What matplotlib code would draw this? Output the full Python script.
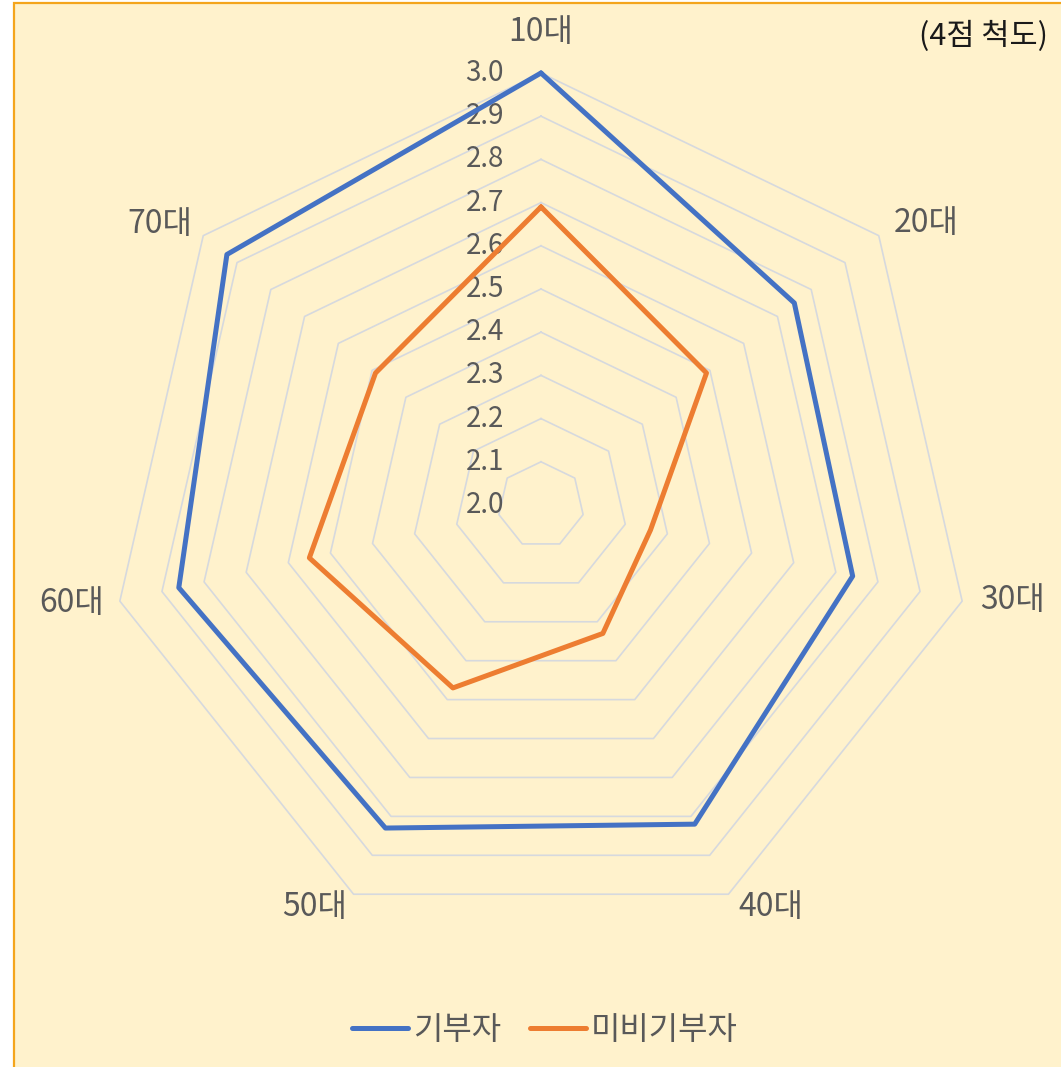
import numpy as np
import matplotlib
matplotlib.use("Agg")
import matplotlib.pyplot as plt
from matplotlib.patches import Rectangle

plt.rcParams['font.family'] = ['Noto Sans CJK KR', 'DejaVu Sans']

categories = ['10대', '20대', '30대', '40대', '50대', '60대', '70대']
donors = [3.00, 2.75, 2.74, 2.82, 2.83, 2.86, 2.93]
non_donors = [2.69, 2.49, 2.26, 2.33, 2.47, 2.55, 2.49]
series_names = ['기부자', '미비기부자']
tick_values = [2.0, 2.1, 2.2, 2.3, 2.4, 2.5, 2.6, 2.7, 2.8, 2.9, 3.0]
scale_note = '(4점 척도)'

# layout: pixel offsets of category labels from the outer ring vertices
label_offsets = [(0, 41), (47, 13), (50, 1), (42, -13), (-39, -13), (-48, -2), (-43, 12)]

W, H = 1061, 1067
fig = plt.figure(figsize=(W / 100, H / 100), dpi=100, facecolor='white')

# chart area background with orange border (extends past right/bottom edges)
fig.patches.append(Rectangle((13.5 / W, -0.05), 1.1, 1 - 3.5 / H + 0.05, transform=fig.transFigure,
                             facecolor='#FFF2CC', edgecolor='#F4A51C', lw=1.6, zorder=-10))

cx, cy, R = 541, 505, 432
ax = fig.add_axes([(cx - R) / W, (H - cy - R) / H, 2 * R / W, 2 * R / H], projection='polar')
ax.set_zorder(5)
ax.set_theta_zero_location('N')
ax.set_theta_direction(-1)
ax.set_ylim(2.0, 3.0)
ax.patch.set_alpha(0)
ax.grid(False)
ax.set_xticks([])
ax.set_yticks([])
ax.spines['polar'].set_visible(False)

n = len(categories)
theta = np.linspace(0, 2 * np.pi, n, endpoint=False)
theta_c = np.append(theta, theta[0])

grid_color = '#D6D9DE'
for v in tick_values[1:]:
    ax.plot(theta_c, [v] * (n + 1), color=grid_color, lw=1.2, zorder=1, clip_on=False)

text_color = '#595959'
for v in tick_values:
    ax.annotate(f'{v:.1f}', xy=(0, v), xytext=(-37, 0), textcoords='offset pixels',
                ha='right', va='center', fontsize=20, color=text_color, zorder=2,
                annotation_clip=False)

blue = '#4472C4'
orange = '#ED7D31'
l1, = ax.plot(theta_c, donors + donors[:1], color=blue, lw=3.6, zorder=4,
              solid_joinstyle='round', solid_capstyle='round', clip_on=False)
l2, = ax.plot(theta_c, non_donors + non_donors[:1], color=orange, lw=3.6, zorder=3,
              solid_joinstyle='round', solid_capstyle='round', clip_on=False)

for t, lab, off in zip(theta, categories, label_offsets):
    ax.annotate(lab, xy=(t, tick_values[-1]), xytext=off, textcoords='offset pixels',
                ha='center', va='center', fontsize=23, color=text_color,
                annotation_clip=False)

fig.text(1048 / W, 1 - 36 / H, scale_note, ha='right', va='center', fontsize=22, color='#1A1A1A')

leg = fig.legend([l1, l2], series_names, loc='center', bbox_to_anchor=(545 / W, 1 - 1030 / H),
                 ncol=2, frameon=False, fontsize=23, handlelength=1.75, handletextpad=0.16,
                 columnspacing=0.9, labelcolor=text_color)
for h in leg.get_lines():
    h.set_linewidth(3.6)
    h.set_solid_capstyle('round')

fig.savefig('out.png', dpi=100, facecolor=fig.get_facecolor())
